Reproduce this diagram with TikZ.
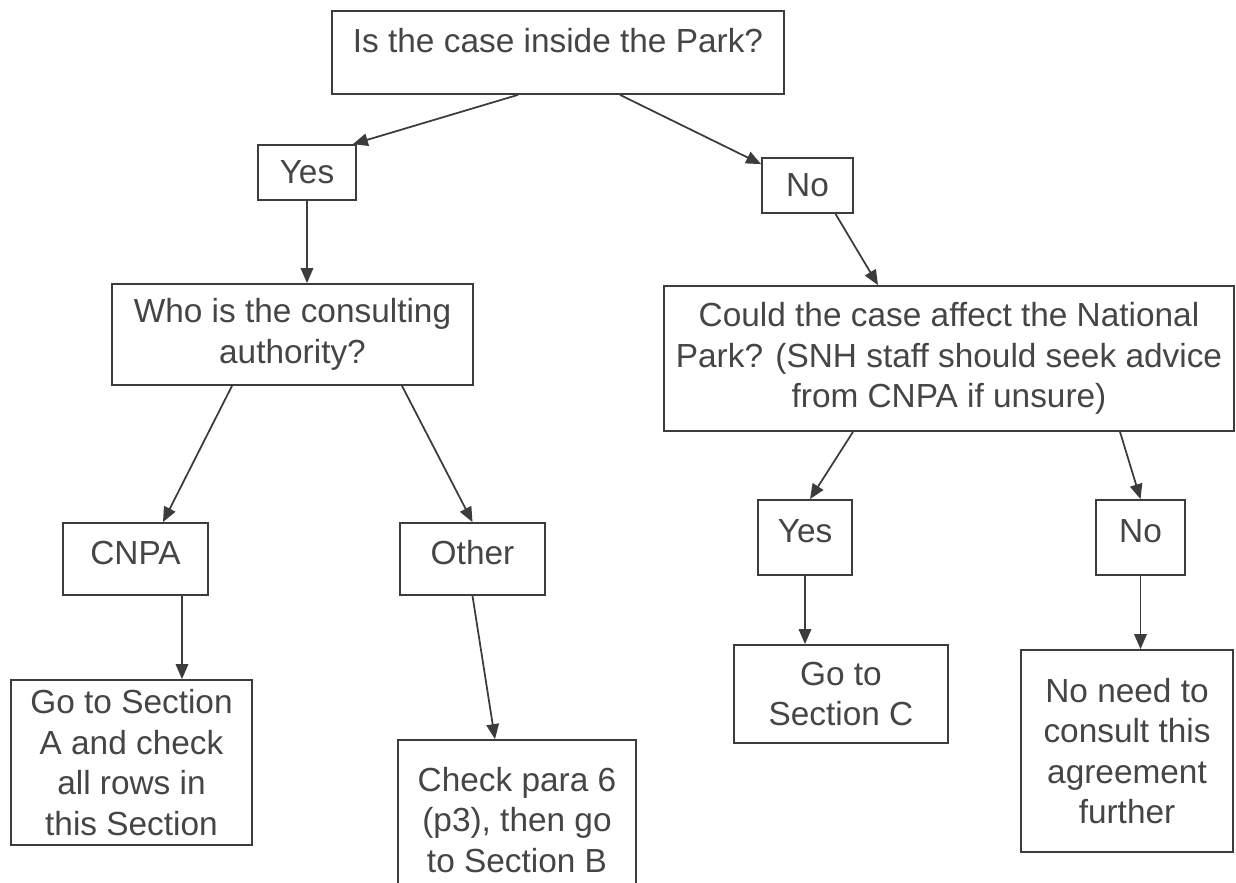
\documentclass[tikz,border=0pt]{standalone}
\usepackage{fontspec}
\setmainfont{Liberation Sans}
\usepackage{xcolor}
\usepackage{tikz}
\usetikzlibrary{calc,positioning,arrows.meta}
\definecolor{inkgray}{HTML}{3C3C3C}
\definecolor{txtgray}{HTML}{454545}
\tikzstyle{box} = [rectangle, draw=inkgray, line width=1pt, text=txtgray, align=center, inner sep=2pt, font=\fontsize{19}{23}\selectfont]
\tikzstyle{highbox} = [box, text height=0.5cm, text depth=0.3cm]
\tikzstyle{arrow} = [line width=1pt, draw=inkgray, -{Triangle[length=0.3cm,width=0.25cm]}]

\begin{document}
\begin{tikzpicture}[node distance=1.2cm]
      \useasboundingbox (-11.16,1.05) rectangle (13.56,-16.59);
      \clip (-11.16,1.05) rectangle (13.56,-16.59);
      \node (top) [box, text height=0.5cm, text depth=0.5cm, minimum width=9.04cm, minimum height=1.66cm] {Is the case inside the Park?};
      \node (yesA) [box, below of=top, xshift=-5.02cm, yshift=-1.2cm, minimum width=1.96cm, minimum height=1.1cm] {Yes};
      \node (noA) [box, below of=top, xshift=4.99cm, yshift=-1.46cm, minimum width=1.82cm, minimum height=1.1cm] {No};
      \node (who) [box, below of=yesA, xshift=-0.29cm, yshift=-2.04cm, minimum width=7.22cm, minimum height=2.02cm] {Who is the consulting\\authority?};
      \node (could) [box, below of=noA, xshift=2.83cm, yshift=-2.26cm, minimum width=11.4cm, minimum height=2.9cm] {Could the case affect the National\\Park? (SNH staff should seek advice\\from CNPA if unsure)};
      \node (cnpa) [highbox, below of=who, xshift=-3.14cm, yshift=-3.29cm, minimum width=2.9cm, minimum height=1.44cm] {CNPA};
      \node (other) [highbox, below of=who, xshift=3.6cm, yshift=-3.29cm, minimum width=2.9cm, minimum height=1.44cm] {Other};
      \node (yesB) [highbox, below of=could, xshift=-2.88cm, yshift=-2.38cm, minimum width=1.88cm, minimum height=1.5cm] {Yes};
      \node (noB) [highbox, below of=could, xshift=3.83cm, yshift=-2.38cm, minimum width=1.78cm, minimum height=1.5cm] {No};
      \node (goA) [box, below of=cnpa, xshift=-0.08cm, yshift=-2.87cm, minimum width=4.82cm, minimum height=3.3cm] {Go to Section\\A and check\\all rows in\\this Section};
      \node (check) [box, below of=other, xshift=0.89cm, yshift=-4.02cm, minimum width=4.76cm, minimum height=3.2cm] {Check para 6\\(p3), then go\\to Section B};
      \node (goC) [box, below of=yesB, xshift=0.72cm, yshift=-1.93cm, minimum width=4.28cm, minimum height=1.96cm] {Go to\\Section C};
      \node (noneed) [box, below of=noB, xshift=-0.27cm, yshift=-3.07cm, minimum width=4.24cm, minimum height=4.04cm] {No need to\\consult this\\agreement\\further};

      \draw [arrow] ([xshift=-0.8cm]top.south) -- ([xshift=-0.08cm]yesA.north east);
      \draw [arrow] ([xshift=1.24cm]top.south) -- ([yshift=-0.14cm]noA.north west);
      \draw [arrow] (yesA.south) -- (yesA.south |- who.north);
      \draw [arrow] ([xshift=0.56cm]noA.south) -- ([xshift=-1.42cm]could.north);
      \draw [arrow] ([xshift=-1.21cm]who.south) -- ([xshift=0.55cm]cnpa.north);
      \draw [arrow] ([xshift=2.19cm]who.south) -- (other.north);
      \draw [arrow] ([xshift=-1.92cm]could.south) -- ([xshift=0.1cm]yesB.north);
      \draw [arrow] ([xshift=3.42cm]could.south) -- (noB.north);
      \draw [arrow] ([xshift=0.93cm]cnpa.south) -- ([xshift=0.93cm]cnpa.south |- goA.north);
      \draw [arrow] (other.south) -- ([xshift=-0.44cm]check.north);
      \draw [arrow] (yesB.south) -- (yesB.south |- goC.north);
      \draw [arrow] (noB.south) -- (noB.south |- noneed.north);

    \end{tikzpicture}
\end{document}
